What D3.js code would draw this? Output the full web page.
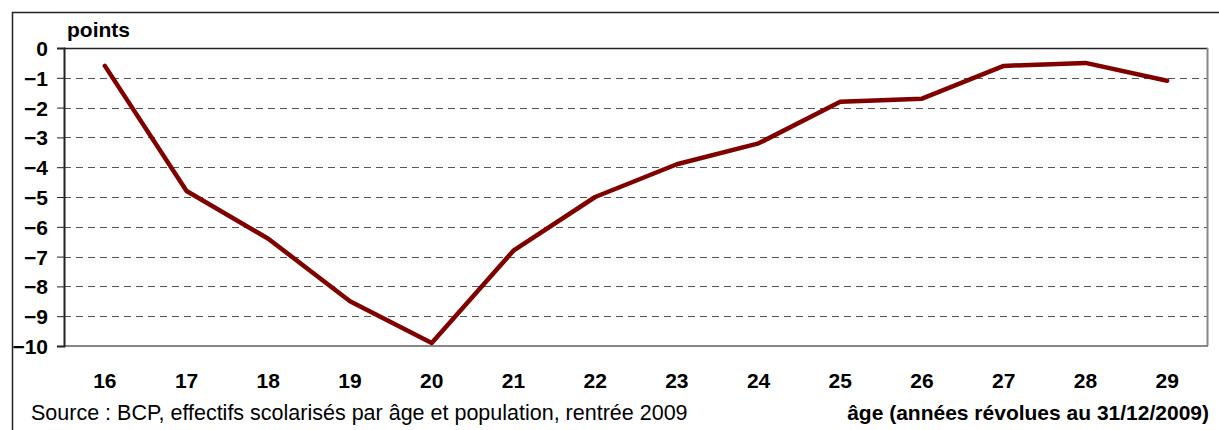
<!DOCTYPE html>
<meta charset="utf-8">
<style>
body { margin: 0; background: #fff; }
.grid line { stroke: #555; stroke-dasharray: 7,5; shape-rendering: crispEdges; }
</style>
<script src="https://cdn.jsdelivr.net/npm/d3@7/dist/d3.min.js"></script>
<body>
<script>

var ages = ["16","17","18","19","20","21","22","23","24","25","26","27","28","29"];
var values = [-0.6, -4.8, -6.4, -8.5, -9.9, -6.8, -5.0, -3.9, -3.2, -1.8, -1.7, -0.6, -0.5, -1.1];
var yTicks = [0, -1, -2, -3, -4, -5, -6, -7, -8, -9, -10];

var W = 1219, H = 430;
var FONT = "Liberation Sans, Arial, sans-serif";
var margin = {top: 48, right: 11, bottom: 84, left: 64},
    width = W - margin.left - margin.right,
    height = H - margin.top - margin.bottom;

var root = d3.select("body").append("svg")
    .attr("width", W)
    .attr("height", H);

// outer frame: left and top edges only are in view
root.append("path")
    .attr("d", "M12.5," + H + "V12.5H" + W)
    .attr("fill", "none")
    .attr("stroke", "#222")
    .attr("stroke-width", 1.5);

var svg = root.append("g")
    .attr("transform", "translate(" + margin.left + "," + margin.top + ")");

var x = d3.scaleBand().domain(ages).range([0, width]);
var y = d3.scaleLinear().domain([-10, 0]).range([height, 0]);

// gridlines
svg.append("g")
    .attr("class", "grid")
    .selectAll("line")
    .data(yTicks.filter(function(d) { return d != 0 && d != -10; }))
    .enter().append("line")
    .attr("x1", 0)
    .attr("x2", width)
    .attr("y1", function(d) { return Math.round(y(d)) + 0.5; })
    .attr("y2", function(d) { return Math.round(y(d)) + 0.5; });

// plot frame
svg.append("line").attr("x1", 0).attr("x2", width).attr("y1", 0.5).attr("y2", 0.5)
    .attr("stroke", "#222").attr("stroke-width", 1.5);
svg.append("line").attr("x1", width - 0.5).attr("x2", width - 0.5).attr("y1", 0).attr("y2", height)
    .attr("stroke", "#888").attr("stroke-width", 2);
svg.append("line").attr("x1", 0).attr("x2", width).attr("y1", height).attr("y2", height)
    .attr("stroke", "#888").attr("stroke-width", 2);

// y axis
var yAxis = d3.axisLeft(y)
    .tickValues(yTicks)
    .tickSize(7)
    .tickPadding(9)
    .tickFormat(d3.format("d"));

var gy = svg.append("g")
    .call(yAxis)
    .attr("font-family", FONT)
    .attr("font-size", 21)
    .attr("font-weight", "bold");
gy.select(".domain").attr("stroke", "#222").attr("stroke-width", 2);
gy.selectAll(".tick line").attr("stroke", "#222");
gy.selectAll(".tick text").attr("dy", "0.36em").attr("fill", "#000");

// x axis labels
svg.append("g")
    .attr("font-family", FONT)
    .attr("font-size", 21)
    .attr("font-weight", "bold")
    .selectAll("text")
    .data(ages)
    .enter().append("text")
    .attr("x", function(d) { return x(d) + x.bandwidth() / 2; })
    .attr("y", height + 42)
    .attr("text-anchor", "middle")
    .text(function(d) { return d; });

// line
var line = d3.line()
    .x(function(d, i) { return x(ages[i]) + x.bandwidth() / 2; })
    .y(function(d) { return y(d); });

svg.append("path")
    .datum(values)
    .attr("fill", "none")
    .attr("stroke", "#800000")
    .attr("stroke-width", 4.5)
    .attr("stroke-linejoin", "round")
    .attr("stroke-linecap", "round")
    .attr("d", line);

// titles
root.append("text")
    .attr("x", 67)
    .attr("y", 37)
    .attr("font-family", FONT)
    .attr("font-size", 21)
    .attr("font-weight", "bold")
    .text("points");

root.append("text")
    .attr("x", 31)
    .attr("y", 420)
    .attr("font-family", FONT)
    .attr("font-size", 21.5)
    .text("Source : BCP, effectifs scolarisés par âge et population, rentrée 2009");

root.append("text")
    .attr("x", 1209)
    .attr("y", 420)
    .attr("text-anchor", "end")
    .attr("font-family", FONT)
    .attr("font-size", 21)
    .attr("font-weight", "bold")
    .text("âge (années révolues au 31/12/2009)");

</script>
</body>
